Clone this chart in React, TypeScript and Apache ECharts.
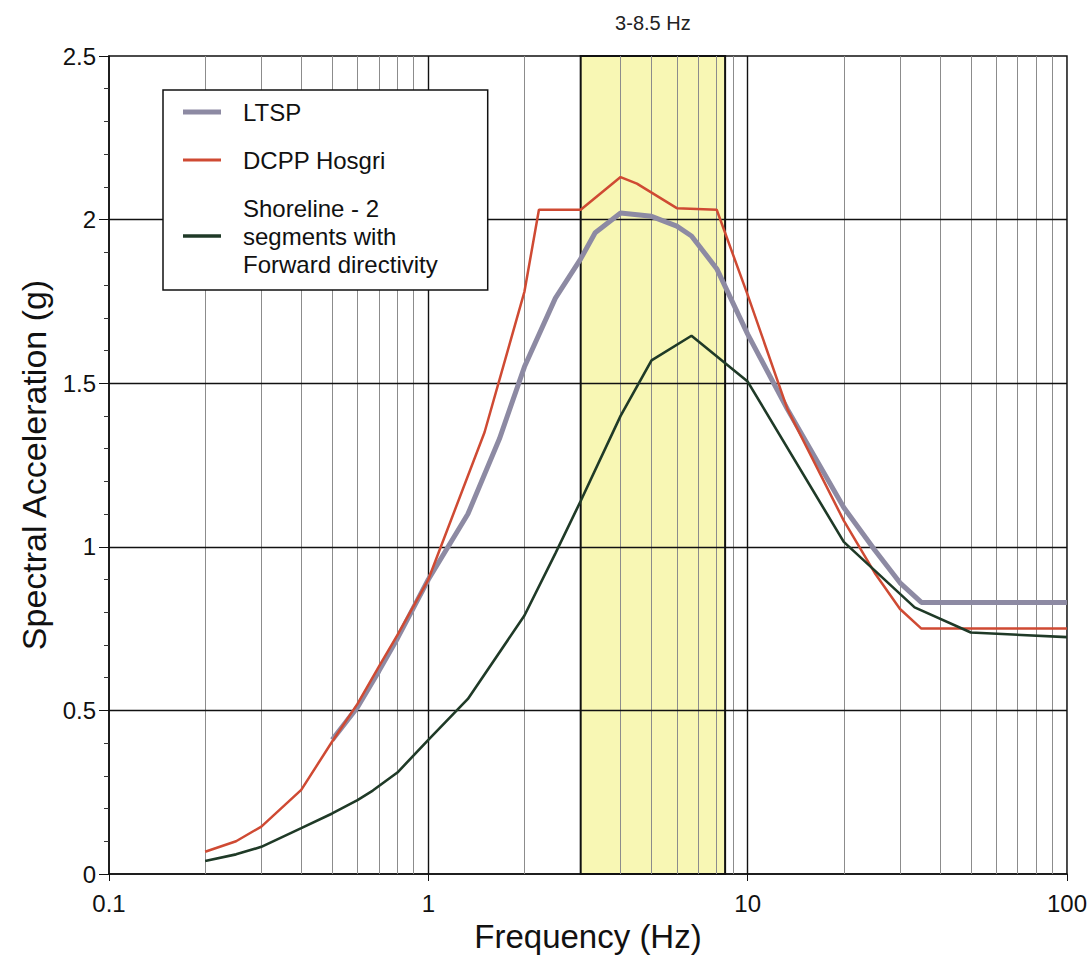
import React, { useEffect, useRef } from "react";
import * as echarts from "echarts";

// ---- Data ----
const ltspFreq = [0.5, 0.6, 0.7, 0.8, 1.0, 1.33, 1.67, 2.0, 2.5, 3.0, 3.33, 4.0, 5.0, 6.0, 6.67, 8.0, 10, 13.33, 20, 25, 30, 35, 100];
const ltspSa = [0.41, 0.51, 0.62, 0.72, 0.90, 1.10, 1.33, 1.55, 1.76, 1.88, 1.96, 2.02, 2.01, 1.98, 1.95, 1.85, 1.65, 1.42, 1.12, 0.99, 0.89, 0.83, 0.83];

const hosgriFreq = [0.2, 0.25, 0.3, 0.4, 0.5, 0.6, 0.7, 0.8, 1.0, 1.5, 2.0, 2.22, 3.0, 4.0, 4.5, 6.0, 8.0, 10, 13.33, 20, 25, 30, 35, 100];
const hosgriSa = [0.068, 0.10, 0.145, 0.257, 0.405, 0.52, 0.634, 0.73, 0.90, 1.35, 1.78, 2.03, 2.03, 2.13, 2.11, 2.035, 2.03, 1.77, 1.42, 1.08, 0.92, 0.81, 0.75, 0.75];

const shoreFreq = [0.2, 0.25, 0.3, 0.4, 0.5, 0.6, 0.67, 0.8, 1.0, 1.33, 2.0, 2.5, 3.0, 4.0, 5.0, 6.67, 10, 20, 33.33, 50, 100];
const shoreSa = [0.04, 0.06, 0.083, 0.14, 0.185, 0.226, 0.255, 0.31, 0.41, 0.535, 0.79, 0.98, 1.14, 1.40, 1.57, 1.645, 1.505, 1.015, 0.815, 0.738, 0.724];

const seriesNames = ["LTSP", "DCPP Hosgri", "Shoreline - 2\nsegments with\nForward directivity"];
const bandRange = [3, 8.5];
const bandLabel = "3-8.5 Hz";

const xMinorGrid = [0.2, 0.3, 0.4, 0.5, 0.6, 0.7, 0.8, 0.9, 2, 4, 5, 6, 7, 8, 9, 20, 30, 40, 50, 60, 70, 80, 90];
const xMajorGrid = [1, 10];
const yMajorGrid = [0.5, 1, 1.5, 2];

const xTickValues = [0.1, 1, 10, 100];
const xTickLabels = ["0.1", "1", "10", "100"];
const yTickValues = [0, 0.5, 1, 1.5, 2, 2.5];
const yTickLabels = ["0", "0.5", "1", "1.5", "2", "2.5"];

const FONT = "'Liberation Sans', Arial, Helvetica, sans-serif";
const GRAY = "#8d8aa3";
const RED = "#cf4a33";
const GREEN = "#1f3a27";

function pairs(xs: number[], ys: number[]) {
  return xs.map((x, i) => [x, ys[i]]);
}

function labelFor(values: number[], labels: string[], v: number) {
  for (let i = 0; i < values.length; i++) {
    if (Math.abs(values[i] - v) < 1e-9 * Math.max(1, Math.abs(v))) return labels[i];
  }
  return "";
}

export default function App() {
  const ref = useRef<HTMLDivElement>(null);

  useEffect(() => {
    if (!ref.current) return;
    const chart = echarts.init(ref.current, null, { renderer: "svg" });

    const gridLines: any[] = [];
    xMinorGrid.forEach((v) =>
      gridLines.push({ xAxis: v, lineStyle: { color: "#8c8c8c", width: 1, type: "solid" } })
    );
    xMajorGrid.forEach((v) =>
      gridLines.push({ xAxis: v, lineStyle: { color: "#111", width: 1.4, type: "solid" } })
    );
    yMajorGrid.forEach((v) =>
      gridLines.push({ yAxis: v, lineStyle: { color: "#111", width: 1.4, type: "solid" } })
    );

    const option: any = {
      animation: false,
      backgroundColor: "#fff",
      textStyle: { fontFamily: FONT },
      grid: {
        left: 109,
        top: 56,
        right: 22,
        bottom: 84,
        show: true,
        borderColor: "#111",
        borderWidth: 1.5,
        backgroundColor: "transparent",
      },
      legend: {
        orient: "vertical",
        left: 163,
        top: 90,
        z: 10,
        backgroundColor: "#fff",
        borderColor: "#111",
        borderWidth: 1.5,
        borderRadius: 0,
        padding: [8, 50, 12, 20],
        itemGap: 20,
        itemWidth: 38,
        itemHeight: 14,
        selectedMode: false,
        itemStyle: { borderWidth: 0 },
        textStyle: { fontSize: 24, lineHeight: 28, color: "#111", fontFamily: FONT, padding: [0, 0, 0, 17] },
        data: [
          { name: seriesNames[0], icon: "path://M0,0H38V5H0Z", itemStyle: { color: GRAY, borderWidth: 0 } },
          { name: seriesNames[1], icon: "path://M0,0H38V3H0Z", itemStyle: { color: RED, borderWidth: 0 } },
          { name: seriesNames[2], icon: "path://M0,0H38V3.4H0Z", itemStyle: { color: GREEN, borderWidth: 0 } },
        ],
      },
      xAxis: {
        type: "log",
        logBase: 10,
        min: 0.1,
        max: 100,
        axisLine: { show: true, lineStyle: { color: "#111", width: 1.5 } },
        axisTick: { show: true, length: 7, lineStyle: { color: "#111" } },
        minorTick: { show: false },
        splitLine: { show: false },
        axisLabel: {
          fontSize: 24,
          color: "#111",
          margin: 17,
          formatter: (v: number) => labelFor(xTickValues, xTickLabels, v),
        },
        name: "Frequency (Hz)",
        nameLocation: "middle",
        nameGap: 44,
        nameTextStyle: { fontSize: 33, color: "#111", fontFamily: FONT },
      },
      yAxis: {
        type: "value",
        min: 0,
        max: 2.5,
        interval: 0.5,
        axisLine: { show: true, lineStyle: { color: "#111", width: 1.5 } },
        axisTick: { show: true, length: 10, lineStyle: { color: "#111" } },
        minorTick: { show: true, splitNumber: 5, length: 5, lineStyle: { color: "#333" } },
        splitLine: { show: false },
        axisLabel: {
          fontSize: 24,
          color: "#111",
          margin: 13,
          formatter: (v: number) => labelFor(yTickValues, yTickLabels, v),
        },
        name: "Spectral Acceleration (g)",
        nameLocation: "middle",
        nameGap: 58,
        nameTextStyle: { fontSize: 34, color: "#111", fontFamily: FONT },
      },
      series: [
        {
          name: seriesNames[0],
          type: "line",
          data: pairs(ltspFreq, ltspSa),
          symbol: "none",
          z: 6,
          lineStyle: { color: GRAY, width: 5 },
          itemStyle: { color: GRAY },
          markArea: {
            silent: true,
            z: 1,
            itemStyle: { color: "#f8f7b4", borderColor: "#111", borderWidth: 2 },
            label: {
              show: true,
              position: "top",
              distance: 22,
              fontSize: 20,
              color: "#222",
              fontFamily: FONT,
            },
            data: [[{ name: bandLabel, xAxis: bandRange[0] }, { xAxis: bandRange[1] }]],
          },
          markLine: {
            silent: true,
            z: 2,
            symbol: ["none", "none"],
            label: { show: false },
            emphasis: { disabled: true },
            data: gridLines,
          },
        },
        {
          name: seriesNames[1],
          type: "line",
          data: pairs(hosgriFreq, hosgriSa),
          symbol: "none",
          z: 7,
          lineStyle: { color: RED, width: 2.5 },
          itemStyle: { color: RED },
        },
        {
          name: seriesNames[2],
          type: "line",
          data: pairs(shoreFreq, shoreSa),
          symbol: "none",
          z: 8,
          lineStyle: { color: GREEN, width: 2.6 },
          itemStyle: { color: GREEN },
        },
      ],
    };

    chart.setOption(option);
    return () => chart.dispose();
  }, []);

  return (
    <div
      ref={ref}
      style={{ position: "absolute", left: 0, top: 0, width: 1090, height: 958, background: "#fff" }}
    />
  );
}
